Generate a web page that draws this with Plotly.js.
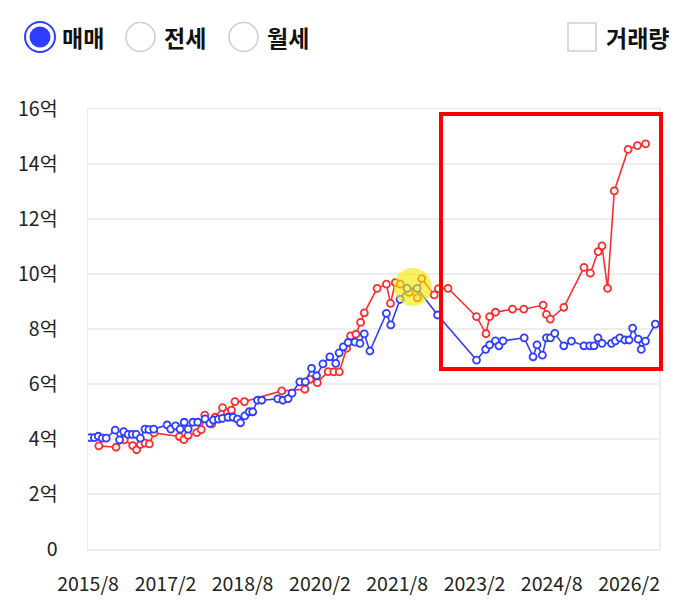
<!DOCTYPE html>
<html>
<head>
<meta charset="utf-8">
<script src="https://cdn.plot.ly/plotly-3.0.1.min.js"></script>
<style>
html,body{margin:0;padding:0;background:#fff;}
#chart{width:699px;height:615px;}
</style>
</head>
<body>
<div id="chart"></div>
<script>
// ---- data ----
const blueDates = ['2015-08-15','2015-09-15','2015-10-13','2015-11-10','2015-12-08','2016-02-10','2016-03-12','2016-04-10','2016-05-12','2016-06-10','2016-07-08','2016-08-06','2016-09-08','2016-10-06','2016-11-09','2017-02-12','2017-03-10','2017-04-13','2017-05-15','2017-06-13','2017-07-11','2017-08-14','2017-09-17','2017-11-08','2017-12-12','2018-01-06','2018-02-11','2018-03-11','2018-04-20','2018-05-26','2018-06-26','2018-07-17','2018-08-17','2018-09-17','2018-10-12','2018-11-15','2018-12-15','2019-04-08','2019-05-14','2019-06-20','2019-07-18','2019-09-11','2019-10-20','2019-12-03','2020-01-08','2020-02-22','2020-04-11','2020-05-23','2020-06-16','2020-07-15','2020-08-19','2020-10-06','2020-11-11','2020-12-11','2021-01-20','2021-05-17','2021-06-17','2021-08-22','2021-10-11','2021-12-21','2022-05-15','2023-02-15','2023-04-21','2023-05-19','2023-06-29','2023-07-24','2023-08-22','2024-01-19','2024-03-22','2024-04-19','2024-05-27','2024-06-25','2024-07-23','2024-08-23','2024-10-26','2024-12-19','2025-03-18','2025-04-28','2025-05-28','2025-06-25','2025-07-24','2025-09-29','2025-10-27','2025-11-27','2026-01-02','2026-02-01','2026-02-26','2026-04-06','2026-04-28','2026-05-28','2026-08-06'];
const blueValues = [4.05,4.05,4.10,4.03,4.03,4.32,3.97,4.27,4.17,4.17,4.17,4.03,4.36,4.34,4.36,4.51,4.36,4.48,4.36,4.61,4.36,4.61,4.61,4.73,4.57,4.69,4.72,4.75,4.79,4.79,4.72,4.59,4.84,4.99,4.99,5.41,5.41,5.46,5.41,5.47,5.67,6.08,6.08,6.57,6.30,6.73,6.99,6.75,7.13,7.35,7.51,7.52,7.48,7.82,7.20,8.57,8.15,9.08,9.48,9.48,8.51,6.87,7.26,7.42,7.57,7.39,7.57,7.68,6.99,7.42,7.05,7.68,7.68,7.84,7.39,7.56,7.39,7.39,7.39,7.68,7.48,7.48,7.57,7.68,7.60,7.60,8.03,7.63,7.26,7.56,8.18];

const redDates = ['2015-10-17','2016-02-16','2016-04-14','2016-06-13','2016-07-11','2016-08-07','2016-09-08','2016-10-09','2016-11-11','2017-05-10','2017-06-11','2017-07-11','2017-09-10','2017-10-12','2017-11-06','2017-12-25','2018-01-18','2018-03-12','2018-04-15','2018-05-14','2018-06-08','2018-08-14','2019-05-06','2019-10-17','2019-11-22','2020-01-13','2020-03-30','2020-05-09','2020-06-17','2020-08-08','2020-09-05','2020-10-13','2020-11-15','2020-12-11','2021-03-12','2021-05-17','2021-06-15','2021-07-19','2021-08-24','2021-10-25','2021-12-22','2022-01-22','2022-04-21','2022-05-21','2022-07-28','2023-02-15','2023-04-23','2023-05-19','2023-06-29','2023-10-28','2024-01-16','2024-06-01','2024-06-25','2024-07-22','2024-10-26','2025-03-18','2025-05-02','2025-06-26','2025-07-24','2025-09-01','2025-10-19','2026-01-25','2026-04-01','2026-05-29'];
const redValues = [3.75,3.70,3.97,3.76,3.61,3.80,3.85,3.82,4.22,4.09,3.98,4.13,4.23,4.34,4.87,4.55,4.79,5.14,4.96,5.05,5.36,5.36,5.75,5.81,6.17,6.05,6.45,6.44,6.44,7.30,7.75,7.81,8.24,8.59,9.48,9.63,8.93,9.69,9.63,9.33,9.13,9.83,9.24,9.47,9.48,8.45,7.83,8.45,8.61,8.72,8.72,8.87,8.53,8.36,8.79,10.24,10.03,10.81,11.02,9.48,13.02,14.53,14.67,14.73];

const xTickVals = ['2015-08-01','2017-02-01','2018-08-01','2020-02-01','2021-08-01','2023-02-01','2024-08-01','2026-02-01'];
const xTickText = ['2015/8','2017/2','2018/8','2020/2','2021/8','2023/2','2024/8','2026/2'];
const yTickVals = [0,2,4,6,8,10,12,14,16];
const yTickText = ['0','2억','4억','6억','8억','10억','12억','14억','16억'];

const highlightDate = ['2021-11-20'];
const highlightValue = [9.53];

const legendLabels = ['매매','전세','월세'];
const volumeLabel = '거래량';

// ---- layout helpers (pixel -> paper) ----
const L = 88, T = 109, W = 571, H = 440;
const px = x => (x - L) / W;
const py = y => (T + H - y) / H;

const BLUE = '#2f3dff';
const RED = '#ff2d2d';
const FONT = '"Noto Sans CJK KR", "Noto Sans", sans-serif';

const traces = [
  {x: redDates, y: redValues, type: 'scatter', mode: 'lines+markers',
   line: {color: RED, width: 1.6},
   marker: {size: 7, color: '#fff', line: {color: RED, width: 1.8}},
   hoverinfo: 'skip'},
  {x: blueDates, y: blueValues, type: 'scatter', mode: 'lines+markers',
   line: {color: BLUE, width: 1.6},
   marker: {size: 7, color: '#fff', line: {color: BLUE, width: 1.8}},
   hoverinfo: 'skip'},
  {x: highlightDate, y: highlightValue, type: 'scatter', mode: 'markers',
   marker: {size: 38, color: 'rgba(243,232,0,0.62)', line: {width: 0}},
   hoverinfo: 'skip'}
];

const shapes = [
  // red highlight rectangle
  {type: 'rect', xref: 'paper', yref: 'paper', x0: px(441), x1: px(661), y0: py(369), y1: py(114),
   line: {color: '#ff0000', width: 4}, fillcolor: 'rgba(0,0,0,0)', layer: 'above'},
  // radio 1 (selected)
  {type: 'circle', xref: 'paper', yref: 'paper', x0: px(25), x1: px(55), y0: py(52), y1: py(22),
   line: {color: BLUE, width: 2}, fillcolor: '#fff'},
  {type: 'circle', xref: 'paper', yref: 'paper', x0: px(29.5), x1: px(50.5), y0: py(47.5), y1: py(26.5),
   line: {width: 0}, fillcolor: BLUE},
  // radio 2
  {type: 'circle', xref: 'paper', yref: 'paper', x0: px(126), x1: px(155), y0: py(51.5), y1: py(22.5),
   line: {color: '#cdd0db', width: 1.6}, fillcolor: '#fff'},
  // radio 3
  {type: 'circle', xref: 'paper', yref: 'paper', x0: px(229), x1: px(258), y0: py(51.5), y1: py(22.5),
   line: {color: '#cdd0db', width: 1.6}, fillcolor: '#fff'},
  // checkbox
  {type: 'rect', xref: 'paper', yref: 'paper', x0: px(568), x1: px(596), y0: py(51), y1: py(23),
   line: {color: '#cdd0db', width: 1.6}, fillcolor: '#fff'}
];

const legendFont = {family: FONT, size: 23, color: '#111', weight: 700};
const annotations = [
  {text: '<b>' + legendLabels[0] + '</b>', x: px(60), y: py(37)},
  {text: '<b>' + legendLabels[1] + '</b>', x: px(162), y: py(37)},
  {text: '<b>' + legendLabels[2] + '</b>', x: px(265), y: py(37)},
  {text: '<b>' + volumeLabel + '</b>', x: px(604), y: py(37)}
].map(a => Object.assign(a, {xref: 'paper', yref: 'paper', xanchor: 'left', yanchor: 'middle',
  showarrow: false, font: legendFont}));

const layout = {
  width: 699, height: 615,
  margin: {l: L, r: 699 - L - W, t: T, b: 615 - T - H, pad: 0},
  paper_bgcolor: '#fff', plot_bgcolor: '#fff',
  showlegend: false,
  font: {family: FONT, size: 19.5, color: '#222'},
  xaxis: {
    type: 'date', range: ['2015-08-01', '2026-09-01'],
    tickmode: 'array', tickvals: xTickVals, ticktext: xTickText,
    showgrid: false, zeroline: false, showline: true, linecolor: '#ececec', linewidth: 1.5, mirror: true,
    ticks: '', ticklabelstandoff: 17,
    tickfont: {family: FONT, size: 19.5, color: '#222'}
  },
  yaxis: {
    range: [0, 16], tickmode: 'array', tickvals: yTickVals, ticktext: yTickText,
    showgrid: true, gridcolor: '#eeeeee', gridwidth: 1.5, zeroline: false,
    showline: true, linecolor: '#ececec', linewidth: 1.5, mirror: true,
    ticks: '', ticklabelstandoff: 25,
    tickfont: {family: FONT, size: 19.5, color: '#222'}
  },
  shapes: shapes,
  annotations: annotations
};

Plotly.newPlot('chart', traces, layout, {displayModeBar: false, staticPlot: true});
</script>
</body>
</html>
